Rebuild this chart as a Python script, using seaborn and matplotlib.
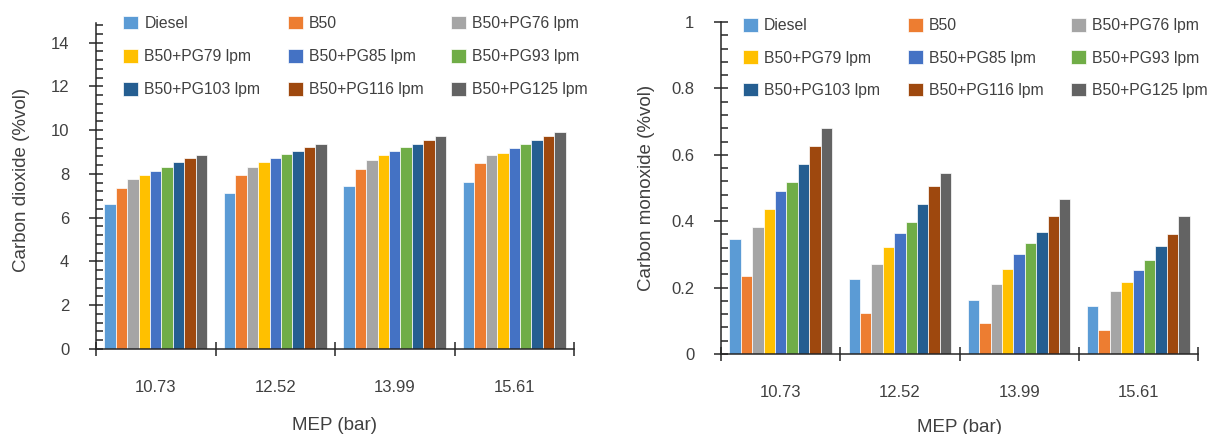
import matplotlib
matplotlib.use("Agg")
import matplotlib.pyplot as plt
import numpy as np
import pandas as pd
import seaborn as sns
from matplotlib.ticker import MultipleLocator, FixedLocator, FuncFormatter

# ---------------- data ----------------
mep_labels = ["10.73", "12.52", "13.99", "15.61"]
series = ["Diesel", "B50", "B50+PG76 lpm", "B50+PG79 lpm", "B50+PG85 lpm",
          "B50+PG93 lpm", "B50+PG103 lpm", "B50+PG116 lpm", "B50+PG125 lpm"]
colors = ["#5B9BD5", "#ED7D31", "#A5A5A5", "#FFC000", "#4472C4",
          "#70AD47", "#255E91", "#9E480E", "#636363"]

# Carbon dioxide (%vol), one list per series across MEP
co2_diesel = [6.62, 7.14, 7.44, 7.64]
co2_b50 = [7.37, 7.95, 8.24, 8.48]
co2_pg76 = [7.75, 8.33, 8.66, 8.85]
co2_pg79 = [7.93, 8.56, 8.85, 8.98]
co2_pg85 = [8.14, 8.75, 9.07, 9.17]
co2_pg93 = [8.34, 8.89, 9.23, 9.38]
co2_pg103 = [8.53, 9.06, 9.39, 9.53]
co2_pg116 = [8.71, 9.23, 9.53, 9.75]
co2_pg125 = [8.86, 9.39, 9.75, 9.91]

# Carbon monoxide (%vol)
co_diesel = [0.346, 0.225, 0.162, 0.146]
co_b50 = [0.235, 0.122, 0.092, 0.071]
co_pg76 = [0.382, 0.272, 0.212, 0.191]
co_pg79 = [0.436, 0.323, 0.256, 0.218]
co_pg85 = [0.492, 0.365, 0.302, 0.252]
co_pg93 = [0.518, 0.398, 0.335, 0.282]
co_pg103 = [0.573, 0.452, 0.368, 0.325]
co_pg116 = [0.626, 0.506, 0.415, 0.361]
co_pg125 = [0.680, 0.546, 0.468, 0.415]

co2_all = [co2_diesel, co2_b50, co2_pg76, co2_pg79, co2_pg85,
           co2_pg93, co2_pg103, co2_pg116, co2_pg125]
co_all = [co_diesel, co_b50, co_pg76, co_pg79, co_pg85,
          co_pg93, co_pg103, co_pg116, co_pg125]


def long_df(values):
    rows = []
    for s, vals in zip(series, values):
        for m, v in zip(mep_labels, vals):
            rows.append({"MEP": m, "Fuel": s, "value": v})
    return pd.DataFrame(rows)


df_co2 = long_df(co2_all)
df_co = long_df(co_all)

# ---------------- style ----------------
sns.set_style("white")
plt.rcParams["font.family"] = ["Liberation Sans", "DejaVu Sans"]
TXT = "#404040"
AX = "#262626"

W, H = 1214, 434
fig = plt.figure(figsize=(W / 100, H / 100), dpi=100)
ax1 = fig.add_axes([96 / W, 1 - 349 / H, (574 - 96) / W, (349 - 23) / H])
ax2 = fig.add_axes([721 / W, 1 - 354 / H, (1198 - 721) / W, (354 - 22) / H])

palette = dict(zip(series, colors))


def draw(ax, df, ylim, major, minor, ylabel, ylab_y, xlab_y, leg_x, leg_y,
         lspace, fmt):
    sns.barplot(data=df, x="MEP", y="value", hue="Fuel", order=mep_labels,
                hue_order=series, palette=palette, width=0.86, ax=ax,
                edgecolor="white", linewidth=0.5, errorbar=None, saturation=1)
    ax.set_xlim(-0.5, 3.5)
    ax.set_ylim(*ylim)
    for sp in ["top", "right"]:
        ax.spines[sp].set_visible(False)
    for sp in ["left", "bottom"]:
        ax.spines[sp].set_color(AX)
        ax.spines[sp].set_linewidth(1.1)

    ax.yaxis.set_major_locator(MultipleLocator(major))
    ax.yaxis.set_minor_locator(MultipleLocator(minor))
    ax.yaxis.set_major_formatter(FuncFormatter(fmt))
    ax.tick_params(axis="y", which="major", left=True, direction="inout",
                   length=10.5, width=1.1, color=AX, labelsize=12,
                   labelcolor=TXT, pad=14)
    ax.tick_params(axis="y", which="minor", left=True, direction="in",
                   length=5, width=1.1, color=AX)

    ax.xaxis.set_minor_locator(FixedLocator([-0.5, 0.5, 1.5, 2.5, 3.5]))
    ax.tick_params(axis="x", which="major", bottom=True, direction="in",
                   length=4, width=1.1, color=AX, labelsize=12,
                   labelcolor=TXT, pad=22)
    ax.tick_params(axis="x", which="minor", bottom=True, direction="inout",
                   length=10, width=1.1, color=AX)

    ax.set_xlabel("MEP (bar)", fontsize=13.5, color=TXT)
    ax.xaxis.label.set_va("center")
    ax.xaxis.set_label_coords(0.5, xlab_y)
    ax.set_ylabel(ylabel, fontsize=13.5, color=TXT)
    ax.yaxis.set_label_coords(-0.138, ylab_y)

    handles, labels = ax.get_legend_handles_labels()
    order = [0, 3, 6, 1, 4, 7, 2, 5, 8]
    leg = ax.legend([handles[i] for i in order], [labels[i] for i in order],
                    ncol=3, loc="upper left", bbox_to_anchor=(leg_x, leg_y),
                    frameon=False, fontsize=11.3, handlelength=0.95,
                    handleheight=0.95, handletextpad=0.4, columnspacing=1.75,
                    labelspacing=lspace, borderpad=0, borderaxespad=0)
    for t in leg.get_texts():
        t.set_color(TXT)


draw(ax1, df_co2, (0, 14.9), 2, 0.4, "Carbon dioxide (%vol)",
     0.518, -0.236, 0.057, 1.022, 1.15, lambda v, p: f"{v:g}")
draw(ax2, df_co, (0, 1.0), 0.2, 0.04, "Carbon monoxide (%vol)",
     0.5, -0.22, 0.046, 1.012, 1.1, lambda v, p: f"{v:g}")

fig.savefig("out.png", dpi=100)
